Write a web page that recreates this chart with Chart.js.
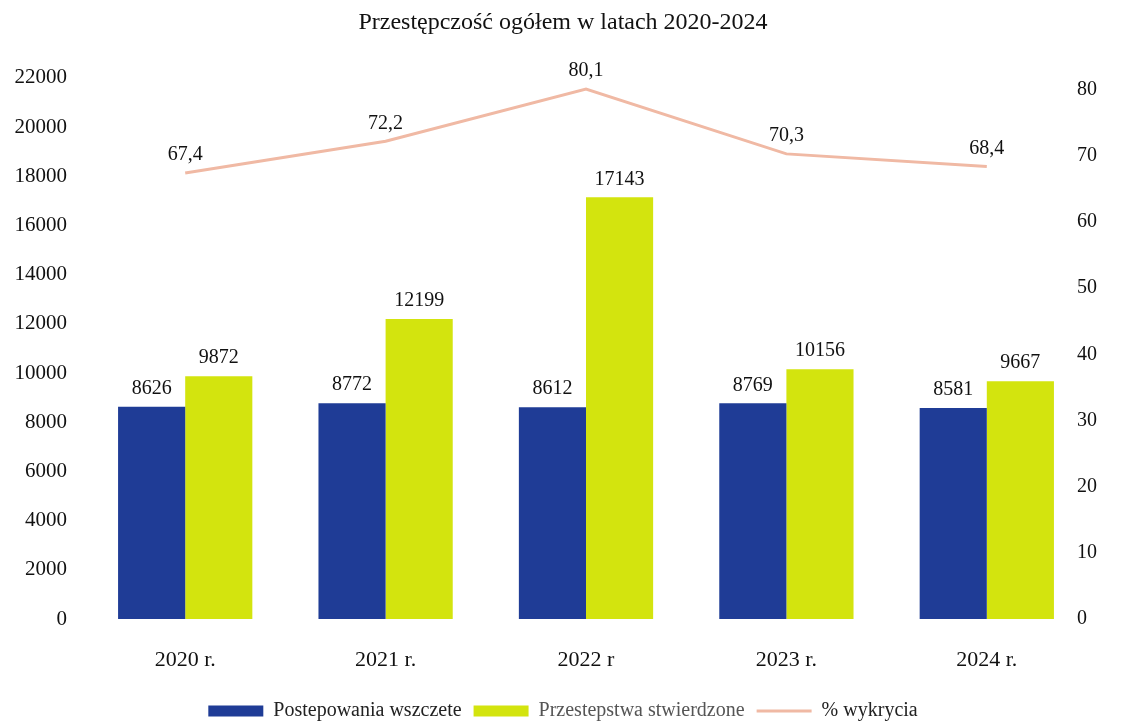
<!DOCTYPE html>
<html>
<head>
<meta charset="utf-8">
<script src="https://cdn.jsdelivr.net/npm/chart.js@4/dist/chart.umd.min.js"></script>
<style>
  html, body { margin: 0; padding: 0; background: #fff; }
  #wrap { width: 1126px; height: 723px; position: relative; }
</style>
</head>
<body>
<div id="wrap"><canvas id="c"></canvas></div>
<script>
const categories = ['2020 r.', '2021 r.', '2022 r', '2023 r.', '2024 r.'];
const postepowania = [8626, 8772, 8612, 8769, 8581];
const przestepstwa = [9872, 12199, 17143, 10156, 9667];
const wykrycie = [67.4, 72.2, 80.1, 70.3, 68.4];
const leftTicks = [0, 2000, 4000, 6000, 8000, 10000, 12000, 14000, 16000, 18000, 20000, 22000];
const rightTicks = [0, 10, 20, 30, 40, 50, 60, 70, 80];

const FONT = '"Liberation Serif", "Times New Roman", serif';

const labelPlugin = {
  id: 'valueLabels',
  afterDatasetsDraw(chart) {
    const ctx = chart.ctx;
    ctx.save();
    ctx.font = '20px ' + FONT;
    ctx.fillStyle = '#111';
    ctx.textAlign = 'center';
    ctx.textBaseline = 'bottom';
    chart.data.datasets.forEach((ds, i) => {
      const meta = chart.getDatasetMeta(i);
      meta.data.forEach((el, j) => {
        const v = ds.data[j];
        const txt = ds.type === 'line' ? v.toFixed(1).replace('.', ',') : String(v);
        ctx.fillText(txt, el.x, el.y - 8);
      });
    });
    ctx.restore();
  }
};

new Chart(document.getElementById('c'), {
  type: 'bar',
  data: {
    labels: categories,
    datasets: [
      {
        label: 'Postepowania wszczete',
        data: postepowania,
        backgroundColor: '#1f3c96',
        yAxisID: 'y',
        categoryPercentage: 0.67,
        barPercentage: 1.0
      },
      {
        label: 'Przestepstwa stwierdzone',
        data: przestepstwa,
        backgroundColor: '#d3e40e',
        yAxisID: 'y',
        categoryPercentage: 0.67,
        barPercentage: 1.0
      },
      {
        type: 'line',
        label: '% wykrycia',
        data: wykrycie,
        borderColor: '#f0b9a4',
        backgroundColor: '#f0b9a4',
        borderWidth: 3,
        pointRadius: 0,
        tension: 0,
        yAxisID: 'y1'
      }
    ]
  },
  options: {
    responsive: true,
    maintainAspectRatio: false,
    animation: false,
    layout: { padding: { top: 0, bottom: -8, left: 0, right: 0 } },
    plugins: {
      title: {
        display: true,
        text: 'Przestępczość ogółem w latach 2020-2024',
        color: '#111',
        font: { family: FONT, size: 24, weight: 'normal' },
        padding: { top: 8, bottom: 41 }
      },
      legend: {
        position: 'bottom',
        labels: {
          usePointStyle: true,
          pointStyleWidth: 55,
          boxHeight: 11,
          padding: 12,
          color: '#222',
          font: { family: FONT, size: 20 },
          generateLabels(chart) {
            const items = Chart.defaults.plugins.legend.labels.generateLabels(chart);
            items.forEach((it) => {
              const ds = chart.data.datasets[it.datasetIndex];
              if (ds.type === 'line') {
                it.pointStyle = 'line';
                it.strokeStyle = ds.borderColor;
                it.lineWidth = 3;
              } else {
                it.pointStyle = 'rect';
                it.lineWidth = 0;
                it.strokeStyle = ds.backgroundColor;
              }
              if (it.datasetIndex === 1) it.fontColor = '#555';
            });
            return items;
          }
        }
      },
      tooltip: { enabled: false }
    },
    scales: {
      x: {
        grid: { display: false, drawTicks: false },
        border: { display: false },
        afterFit(s) { s.height = 70; },
        ticks: { color: '#111', font: { family: FONT, size: 22 }, padding: 28 }
      },
      y: {
        position: 'left',
        min: 0,
        max: 22000,
        grid: { display: false, drawTicks: false },
        border: { display: false },
        afterBuildTicks(s) { s.ticks = leftTicks.map(v => ({ value: v })); },
        afterFit(s) { s.width = 85; },
        ticks: {
          color: '#111', font: { family: FONT, size: 21 }, padding: 18, autoSkip: false,
          callback: (v) => String(v)
        }
      },
      y1: {
        position: 'right',
        min: 0,
        max: 81.8,
        grid: { display: false, drawTicks: false },
        border: { display: false },
        afterBuildTicks(s) { s.ticks = rightTicks.map(v => ({ value: v })); },
        afterFit(s) { s.width = 39; },
        ticks: {
          color: '#111', font: { family: FONT, size: 20 }, padding: 10, autoSkip: false,
          mirror: true, crossAlign: 'far',
          callback: (v) => String(v)
        }
      }
    }
  },
  plugins: [labelPlugin]
});
</script>
</body>
</html>
